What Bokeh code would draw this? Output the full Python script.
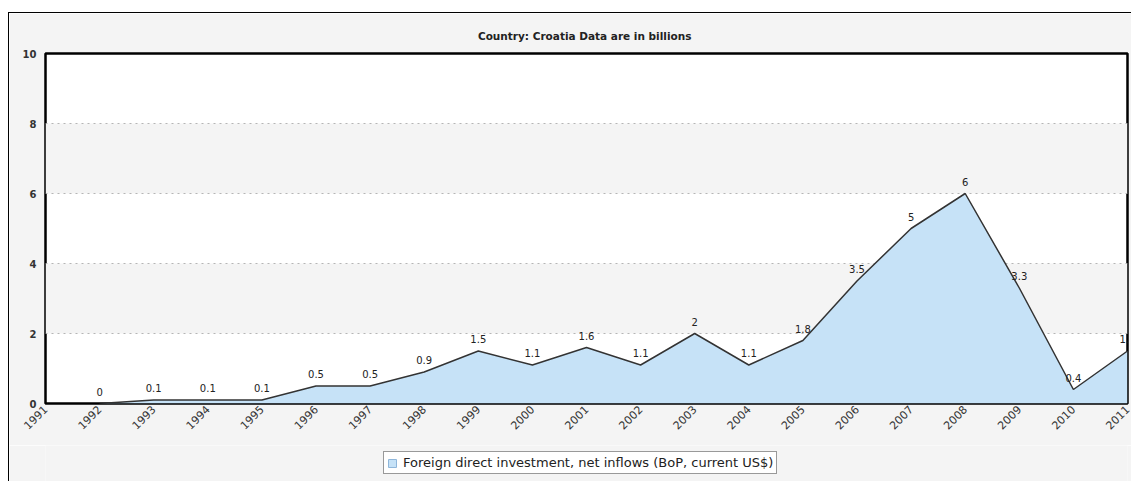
import math
from bokeh.plotting import figure
from bokeh.layouts import column
from bokeh.models import Range1d, Legend, LegendItem, ColumnDataSource
from bokeh.embed import file_html
from bokeh.resources import INLINE
from bokeh.core.properties import value

years = [1992, 1993, 1994, 1995, 1996, 1997, 1998, 1999, 2000, 2001,
         2002, 2003, 2004, 2005, 2006, 2007, 2008, 2009, 2010, 2011]
fdi = [0, 0.1, 0.1, 0.1, 0.5, 0.5, 0.9, 1.5, 1.1, 1.6,
       1.1, 2, 1.1, 1.8, 3.5, 5, 6, 3.3, 0.4, 1.5]
point_labels = ["0", "0.1", "0.1", "0.1", "0.5", "0.5", "0.9", "1.5", "1.1", "1.6",
                "1.1", "2", "1.1", "1.8", "3.5", "5", "6", "3.3", "0.4", "1.5"]
x_ticks = list(range(1991, 2012))
y_ticks = [0, 2, 4, 6, 8, 10]
title_text = "Country: Croatia  Data are in billions"
series_name = "Foreign direct investment, net inflows (BoP, current US$)"

FONT = "DejaVu Sans"
BG = "#f4f4f4"
AREA = "#c6e2f7"

src = ColumnDataSource(dict(x=years, y=fdi, label=point_labels))

p = figure(frame_width=1082, frame_height=350,
           output_backend="svg", toolbar_location=None,
           x_range=Range1d(1991, 2011), y_range=Range1d(0, 10),
           min_border_left=36, min_border_right=4, min_border_top=40,
           min_border_bottom=42,
           background_fill_color="white", border_fill_color=BG,
           outline_line_color="black", outline_line_width=2.5)

p.title.text = title_text
p.title.align = "center"
p.title.text_font = FONT
p.title.text_font_size = "10.5px"
p.title.text_font_style = "bold"
p.title.text_color = "#222222"
p.title.standoff = 24

p.xgrid.visible = False
p.ygrid.grid_line_color = "#b5b5b5"
p.ygrid.grid_line_dash = "dotted"
p.ygrid.band_fill_color = BG
p.ygrid.band_fill_alpha = 1.0

p.yaxis.ticker = y_ticks
p.yaxis.axis_line_color = None
p.yaxis.major_tick_line_color = None
p.yaxis.minor_tick_line_color = None
p.yaxis.major_label_standoff = 3
p.yaxis.major_label_text_font = FONT
p.yaxis.major_label_text_font_size = "10px"
p.yaxis.major_label_text_font_style = "bold"
p.yaxis.major_label_text_color = "#333333"

p.xaxis.ticker = x_ticks
p.xaxis.axis_line_color = None
p.xaxis.major_tick_line_color = None
p.xaxis.minor_tick_line_color = None
p.xaxis.major_tick_out = 0
p.xaxis.major_tick_in = 0
p.xaxis.minor_tick_out = 0
p.xaxis.major_label_orientation = math.pi / 4
p.xaxis.major_label_standoff = 4
p.xaxis.major_label_text_font = FONT
p.xaxis.major_label_text_font_size = "11px"
p.xaxis.major_label_text_color = "#333333"

p.varea(x="x", y1=0, y2="y", source=src, fill_color=AREA)
p.line(x="x", y="y", source=src, line_color="#333333", line_width=1.5)
p.text(x="x", y="y", text="label", source=src, text_align="center",
       text_baseline="middle", y_offset=-12, text_font=value(FONT),
       text_font_size="10px", text_color="#222222")

# legend strip below the chart
q = figure(width=1122, height=36, output_backend="svg", toolbar_location=None,
           x_axis_location=None, y_axis_location=None,
           x_range=Range1d(1991, 2011), y_range=Range1d(100, 101),
           min_border=0, background_fill_color=BG, border_fill_color=BG,
           outline_line_color=None)
q.grid.visible = False
swatch = q.quad(left="x", right="x", bottom=0, top="y", source=src,
                fill_color=AREA, line_color="#8fb6da", line_width=1)

legend = Legend(items=[LegendItem(label=series_name, renderers=[swatch])],
                location=(338, 7), orientation="horizontal",
                border_line_color="#333333", border_line_width=1,
                background_fill_color="white", background_fill_alpha=1,
                label_text_font=FONT, label_text_font_size="13px",
                label_text_color="#222222", label_height=14,
                glyph_width=10, glyph_height=10, padding=3, spacing=4,
                label_standoff=6, margin=0)
q.add_layout(legend, "center")

layout = column(p, q, spacing=0,
                styles={"margin-left": "8px", "margin-top": "12px",
                        "border-left": "1px solid black",
                        "border-top": "1px solid black"})

open("out.html", "w").write(file_html(layout, INLINE))
